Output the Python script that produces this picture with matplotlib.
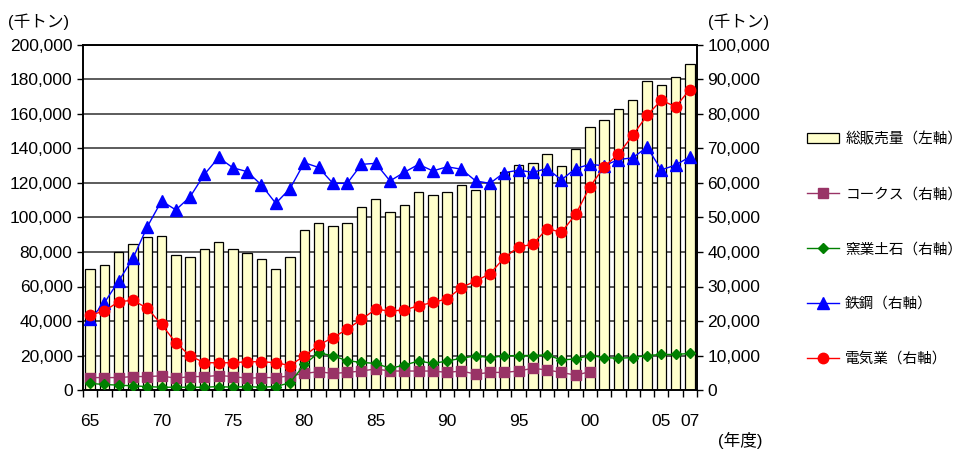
import matplotlib
matplotlib.use("Agg")
import matplotlib.pyplot as plt
import numpy as np

plt.rcParams['font.family'] = ['Liberation Sans', 'Noto Sans CJK JP']

years = list(range(1965, 2008))
year_labels = {1965: "65", 1970: "70", 1975: "75", 1980: "80", 1985: "85",
               1990: "90", 1995: "95", 2000: "00", 2005: "05", 2007: "07"}

# total sales (left axis, thousand tons)
total_sales = [70100, 72300, 80200, 84400, 88500, 89300, 78000, 77300, 81500, 85600,
               81500, 79200, 75900, 70300, 77300, 92800, 97000, 94900, 97000, 106100,
               110900, 103400, 107400, 114600, 113000, 115000, 118600, 115700, 116900, 126500,
               130200, 131400, 136800, 130000, 139900, 152400, 156500, 163100, 167900, 179100,
               177000, 181600, 189000]

# right axis series
coke = [3600, 3600, 3600, 3900, 3900, 4100, 3400, 3900, 3900, 4200,
        3900, 3400, 3600, 3600, 4100, 4800, 5300, 4800, 5100, 5500,
        6100, 5500, 5500, 5500, 5500, 5100, 5500, 4600, 5100, 5100,
        5500, 6300, 5800, 5100, 4300, 5300]
ceramics = [1900, 1600, 1400, 1200, 1000, 800, 800, 800, 800, 1000,
            800, 1000, 800, 1000, 2100, 7400, 10800, 9900, 8500, 8000,
            7700, 6300, 7200, 8400, 7700, 8400, 9200, 9900, 9400, 9900,
            10000, 10000, 10200, 8700, 9000, 10000, 9400, 9200, 9400, 10000,
            10300, 10300, 10600]
steel = [20500, 25300, 31600, 38200, 47300, 54800, 52200, 56000, 62500, 67400,
         64400, 63300, 59400, 54100, 58400, 65900, 64500, 59900, 59900, 65400,
         65700, 60600, 63100, 65400, 63500, 64700, 64000, 60600, 59900, 63000,
         63700, 63100, 64200, 60900, 64200, 65400, 65000, 66800, 67300, 70400,
         63800, 65200, 67600]
electric = [21700, 22900, 25600, 26000, 23700, 19000, 13700, 9900, 7900, 7900,
            7900, 8200, 8200, 7900, 7100, 9900, 13000, 15200, 17600, 20500,
            23400, 22900, 23200, 24400, 25400, 26400, 29700, 31600, 33700, 38300,
            41500, 42200, 46800, 45700, 50900, 58900, 64700, 68400, 73800, 79600,
            84000, 82100, 87100]

fig = plt.figure(figsize=(9.66, 4.5), dpi=100)
ax = fig.add_axes([83 / 966, 60 / 450, 614 / 966, 345 / 450])
ax2 = ax.twinx()

x = np.arange(len(years))
bars = ax.bar(x, total_sales, width=0.66, color="#FFFFCC", edgecolor="black",
              linewidth=0.9, zorder=2, label="総販売量（左軸）")
ax.set_xlim(-0.5, len(years) - 0.5)
ax.set_ylim(0, 200000)
ax.set_yticks(np.arange(0, 200001, 20000))
ax.yaxis.set_major_formatter(matplotlib.ticker.FuncFormatter(lambda v, p: f"{int(v):,}"))
ax.grid(axis="y", color="#404040", linewidth=1.2, zorder=0)
ax.set_axisbelow(True)

major_pos = [years.index(y) for y in year_labels]
ax.set_xticks(major_pos)
ax.set_xticklabels([year_labels[y] for y in year_labels])
ax.set_xticks(np.arange(-0.5, len(years), 1), minor=True)
ax.tick_params(axis="x", which="major", length=0, pad=17, labelsize=12.5)
ax.tick_params(axis="x", which="minor", length=5, width=1, direction="out")
ax.tick_params(axis="y", length=4, width=1, direction="out", labelsize=12.5)

n_coke = len(coke)
l1, = ax2.plot(x[:n_coke], coke, color="#993366", marker="s", markersize=6.5,
               linewidth=1, label="コークス（右軸）", zorder=3)
l2, = ax2.plot(x, ceramics, color="#008000", marker="D", markersize=5.5,
               linewidth=1, label="窯業土石（右軸）", zorder=3)
l3, = ax2.plot(x, steel, color="#0000FF", marker="^", markersize=8,
               linewidth=1, label="鉄鋼（右軸）", zorder=3)
l4, = ax2.plot(x, electric, color="#FF0000", marker="o", markersize=7.5,
               linewidth=1, label="電気業（右軸）", zorder=4)
ax2.set_ylim(0, 100000)
ax2.set_yticks(np.arange(0, 100001, 10000))
ax2.yaxis.set_major_formatter(matplotlib.ticker.FuncFormatter(lambda v, p: f"{int(v):,}"))
ax2.tick_params(axis="y", length=4, width=1, direction="out", labelsize=12.5)

for a in (ax, ax2):
    for s in a.spines.values():
        s.set_color("black")
        s.set_linewidth(1.2)

fig.text(8 / 966, 1 - 22 / 450, "(千トン)", fontsize=12, va="center", ha="left")
fig.text(708 / 966, 1 - 22 / 450, "(千トン)", fontsize=12, va="center", ha="left")
fig.text(718 / 966, 1 - 440 / 450, "(年度)", fontsize=12, va="center", ha="left")

fig.legend([bars, l1, l2, l3, l4],
           [h.get_label() for h in [bars, l1, l2, l3, l4]],
           loc="center left", bbox_to_anchor=(800 / 966, 1 - 249 / 450),
           frameon=False, prop={"size": 10.5}, labelspacing=2.8, handlelength=2.2,
           handletextpad=0.4, borderpad=0)

fig.savefig("out.png", dpi=100)
